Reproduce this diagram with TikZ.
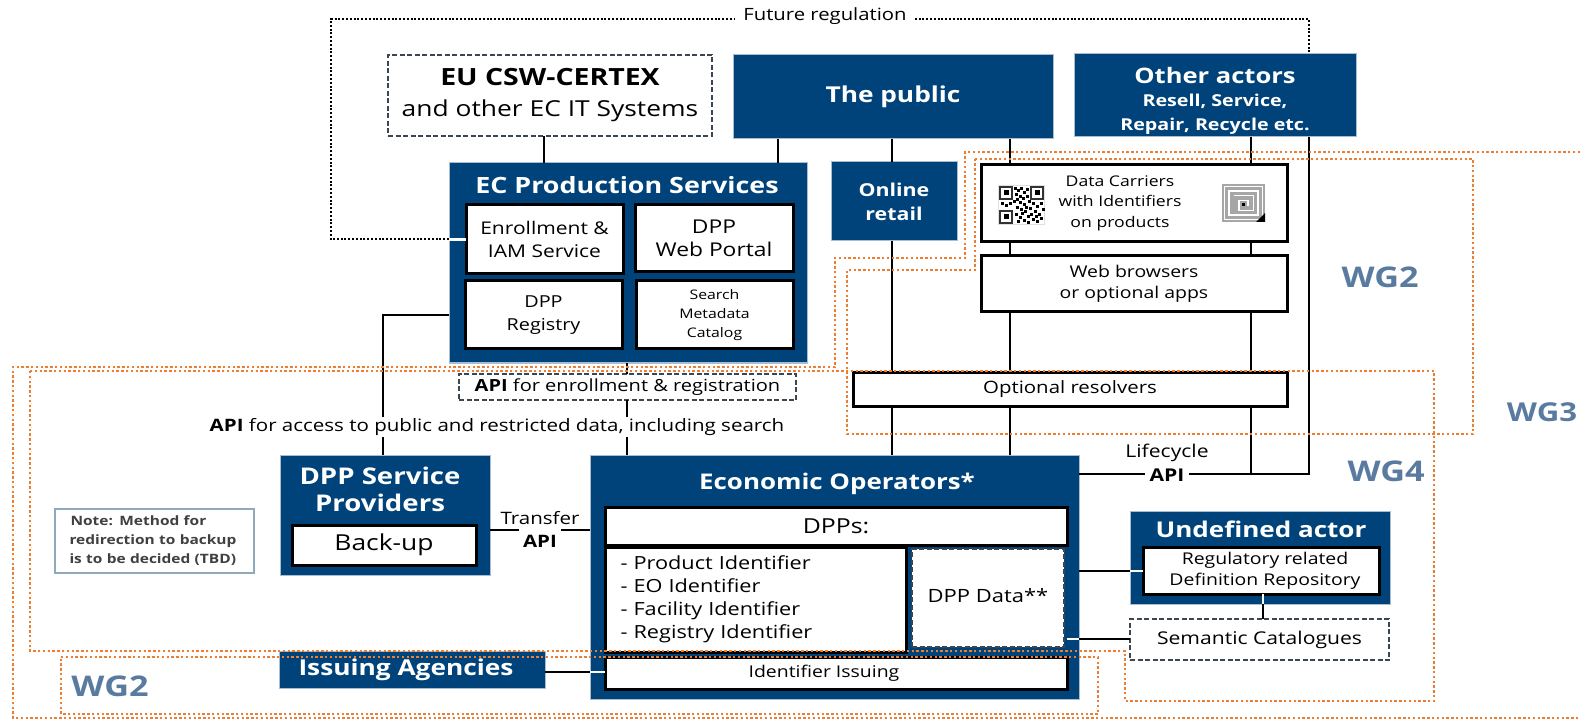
\documentclass[tikz,border=0pt]{standalone}
\usepackage{xcolor}
\usepackage{fontspec}
\setmainfont[FakeStretch=1.2]{Open Sans}
\definecolor{dppblue}{HTML}{00437A}
\definecolor{edgeblue}{HTML}{A9BDCF}
\definecolor{wgorange}{HTML}{ED7D31}
\definecolor{wgblue}{HTML}{5A7BA0}
\definecolor{dashgray}{HTML}{3B4650}
\definecolor{notegray}{HTML}{8FA9BD}
\tikzset{
	size/.style 2 args={minimum width=#1pt,minimum height=#2pt},
	plate/.style={inner sep=0pt,outer sep=0pt,align=center},
	bluebox/.style={plate,fill=dppblue,draw=edgeblue,line width=1pt,text=white},
	whitebox/.style={plate,fill=white,draw=black,line width=3pt,text=black},
	dashbox/.style={plate,fill=white,draw=dashgray,line width=2.2pt,dash pattern=on 5pt off 2.5pt,text=black},
	notebox/.style={plate,fill=white,draw=notegray,line width=2pt,text=black!75},
	title/.style={inner sep=0pt,text=white,align=center,font=\fontsize{22.4}{27}\selectfont\bfseries},
	wire/.style={draw=black,line width=2.2pt},
	whitewire/.style={draw=white,line width=2.2pt},
	futureline/.style={draw=black,line width=2pt,dash pattern=on 2pt off 1.8pt},
	wgline/.style={draw=wgorange,line width=2.4pt,dash pattern=on 2.4pt off 2.4pt},
	wglabel/.style={inner sep=0pt,text=wgblue,font=\fontsize{28.5}{30}\selectfont\bfseries},
	wirelabel/.style={fill=white,inner sep=1pt,align=center},
}
\begin{document}
\begin{tikzpicture}[x=1pt,y=-1pt]
	\clip (0,0) rectangle (1580,719);
	
	% top row
	\node[dashbox,size={324}{81},font=\fontsize{22}{31}\selectfont] (certex) at (550,95.5) {{\fontsize{23.7}{31}\selectfont\textbf{EU CSW-CERTEX}}\\and other EC IT Systems};
	\node[bluebox,size={320}{84},font=\fontsize{21.9}{26}\selectfont\bfseries] (public) at (893,97) {The public};
	\node[bluebox,size={282}{83}] (others) at (1215,95.5) {};
	\node[title,font=\fontsize{21.3}{26}\selectfont\bfseries] (othertitle) at (1215,76) {Other actors};
	\node[inner sep=0pt,text=white,align=center,font=\fontsize{16.4}{24}\selectfont\bfseries] (otherlist) at (1215,114) {Resell, Service,\\Repair, Recycle etc.};
	
	% EC production services
	\node[bluebox,size={358}{200}] (ecprod) at (628,263) {};
	\node[title] (ectitle) at (627,185) {EC Production Services};
	\node[whitebox,size={157}{69},font=\fontsize{17.5}{23}\selectfont] (enroll) at (544.5,239.5) {Enrollment \&\\IAM Service};
	\node[whitebox,size={158}{67},font=\fontsize{19}{23}\selectfont] (portal) at (714,238.5) {DPP\\Web Portal};
	\node[whitebox,size={157}{68},font=\fontsize{16.5}{23}\selectfont] (registry) at (543.5,315) {DPP\\Registry};
	\node[whitebox,size={157}{68},font=\fontsize{13.2}{19}\selectfont] (search) at (714.5,315) {Search\\Metadata\\Catalog};
	
	% middle column
	\node[bluebox,size={126}{79},font=\fontsize{17.8}{24}\selectfont\bfseries] (retail) at (894,201.5) {Online\\retail};
	\node[whitebox,size={306}{77}] (carriers) at (1134,203.5) {};
	\node[inner sep=0pt,align=center,font=\fontsize{14.7}{20.5}\selectfont] (carriertext) at (1120,203) {Data Carriers\\with Identifiers\\on products};
	\node[whitebox,size={306}{56},font=\fontsize{16.2}{21}\selectfont] (browsers) at (1134,284) {Web browsers\\or optional apps};
	\node[whitebox,size={434}{34},font=\fontsize{17}{20}\selectfont] (resolvers) at (1070,389) {Optional resolvers};
	\node[dashbox,size={337}{26},font=\fontsize{16.7}{20}\selectfont] (apienroll) at (627.5,387) {\textbf{API} for enrollment \& registration};
	
	% left side
	\node[bluebox,size={210}{120}] (sprov) at (385,515) {};
	\node[title,font=\fontsize{23}{27}\selectfont\bfseries] (sprovtitle) at (380,489) {DPP Service\\Providers};
	\node[whitebox,size={184}{40},font=\fontsize{22}{24}\selectfont] (backup) at (384,545) {Back-up};
	\node[notebox,size={199}{64},font=\fontsize{12.9}{19}\selectfont\bfseries,align=left,text width=170pt] (note) at (154.5,541) {\hspace*{1pt}Note: Method for\\redirection to backup\\is to be decided (TBD)};
	\node[bluebox,size={266}{37},font=\fontsize{21.9}{24}\selectfont\bfseries] (issuing) at (412,669.5) {Issuing Agencies\hspace*{12pt}};
	
	% economic operators
	\node[bluebox,size={489}{244}] (operators) at (834.5,577) {};
	\node[title,font=\fontsize{21.6}{24}\selectfont\bfseries] (optitle) at (837,484) {Economic Operators*};
	\node[whitebox,size={462}{38},font=\fontsize{20.7}{24}\selectfont] (dpps) at (836,526) {DPPs:};
	\node[whitebox,size={301}{105},font=\fontsize{18.1}{23}\selectfont,align=left,text width=270pt] (idlist) at (755.5,599.5) {- Product Identifier\\- EO Identifier\\- Facility Identifier\\- Registry Identifier};
	\node[dashbox,size={152}{98},font=\fontsize{18.3}{23}\selectfont] (dppdata) at (988,598) {\raisebox{4pt}{DPP Data**}};
	\node[whitebox,size={462}{32},font=\fontsize{16.2}{20}\selectfont] (idissue) at (836,673) {Identifier Issuing\hspace*{24pt}};
	
	% undefined actor
	\node[bluebox,size={260}{93}] (undefined) at (1260,557.5) {};
	\node[title,font=\fontsize{21.7}{24}\selectfont\bfseries] (undeftitle) at (1261,529) {Undefined actor};
	\node[whitebox,size={236}{47},font=\fontsize{16.2}{21}\selectfont] (repo) at (1261,570.5) {\hspace*{8pt}Regulatory related\\\hspace*{8pt}Definition Repository};
	\node[dashbox,size={259}{41},font=\fontsize{17.6}{20}\selectfont] (semantic) at (1259.5,639.5) {Semantic Catalogues};
	
	% data carrier icons
	\begin{scope}[shift={(999,186)}]
		\fill[gray!25] (-1,-1) rectangle (46,39);
		\fill[white] (0,0) rectangle (45,38);
		\foreach \x/\y in {0/0,31/0,0/24} {
			\draw[black!80,line width=1.6pt] (\x+1,\y+1) rectangle (\x+13,\y+13);
			\fill[black] (\x+4.5,\y+4.5) rectangle (\x+9.5,\y+9.5);
		}
		\foreach \x/\y in {15/1,18/3,21/1,24/5,27/2,16/7,20/9,23/11,27/9,2/16,6/18,10/16,14/14,17/12,20/15,24/17,29/14,33/16,37/19,41/16,17/20,21/22,25/24,30/21,35/24,39/27,43/22,16/27,20/30,24/33,28/29,33/32,37/34,41/31,18/34,26/20,22/26,31/27,36/29,28/35} {
			\fill[black] (\x,\y) rectangle (\x+3.4,\y+3.4);
		}
	\end{scope}
	\begin{scope}[shift={(1222,184)}]
		\fill[gray!70] (0,0) rectangle (43,38);
		\foreach \i in {2.5,7} {
			\draw[white,line width=1.4pt] (\i,\i) rectangle (43-\i,38-\i);
		}
		\draw[white,line width=1.4pt] (11.5,11.5) -- (31.5,11.5) -- (31.5,26.5) -- (17,26.5) -- (17,16.5) -- (26,16.5) -- (26,22);
		\fill[black] (20,19) rectangle (23,22);
		\fill[black] (43,38) -- (34,38) -- (43,29) -- cycle;
	\end{scope}
	
	% named x positions of the vertical wires
	\coordinate (lineret) at (892,0);
	\coordinate (linepub) at (1010,0);
	\coordinate (lineact) at (1251,0);
	\coordinate (linelife) at (1309,0);
	\coordinate (lineapi) at (627,0);
	\coordinate (linereg) at (383,0);
	\coordinate (futurecorner) at (331,19);
	
	% vertical wires
	\foreach \a/\b in {public/retail,retail/resolvers,resolvers/operators} {
		\draw[wire] (\a.south -| lineret) -- (\b.north -| lineret);
	}
	\foreach \a/\b in {public/carriers,carriers/browsers,browsers/resolvers,resolvers/operators} {
		\draw[wire] (\a.south -| linepub) -- (\b.north -| linepub);
	}
	\foreach \a/\b in {others/carriers,carriers/browsers,browsers/resolvers} {
		\draw[wire] (\a.south -| lineact) -- (\b.north -| lineact);
	}
	\draw[wire] (certex.south -| 544,0) -- (ecprod.north -| 544,0);
	\draw[wire] (public.south -| 778,0) -- (ecprod.north -| 778,0);
	\draw[wire] (ecprod.south -| lineapi) -- (apienroll.north -| lineapi);
	\draw[wire] (apienroll.south -| lineapi) -- (operators.north -| lineapi);
	\draw[wire] (ecprod.west |- registry.west) -- (linereg |- registry.west) -- (sprov.north -| linereg);
	
	% lifecycle wires
	\draw[wire] (resolvers.south -| lineact) -- (lineact |- 0,474);
	\draw[wire] (others.south -| linelife) -- (linelife |- 0,474) -- (operators.east |- 0,474);
	
	% side wires
	\draw[wire] (sprov.east |- 0,530) -- (operators.west |- 0,530);
	\draw[wire] (issuing.east |- 0,672) -- (operators.west |- 0,672);
	\draw[whitewire] (operators.west |- 0,672) -- (idissue.west |- 0,672);
	\draw[wire] (operators.east |- 0,571) -- (undefined.west |- 0,571);
	\draw[whitewire] (undefined.west |- 0,571) -- (repo.west |- 0,571);
	\draw[wire] (operators.east |- 0,639) -- (semantic.west |- 0,639);
	\draw[whitewire] (dpps.east |- 0,639) -- (operators.east |- 0,639);
	\draw[wire] (undefined.south -| 1263,0) -- (semantic.north -| 1263,0);
	\draw[whitewire] (repo.south -| 1263,0) -- (undefined.south -| 1263,0);
	
	% future regulation
	\node[wirelabel,inner xsep=8pt,font=\fontsize{16.9}{18}\selectfont] (future) at (825,16) {Future regulation};
	\draw[futureline] (ecprod.west |- enroll.west) -- (futurecorner |- enroll.west) -- (futurecorner) -- (future.west |- futurecorner);
	\draw[futureline] (future.east |- futurecorner) -- (linelife |- futurecorner) -- (others.north -| linelife);
	\draw[whitewire] (ecprod.west |- enroll.west) -- (enroll.west);
	
	% wire labels
	\node[wirelabel,font=\fontsize{17.1}{20}\selectfont] (apiaccess) at (497,427) {\textbf{API} for access to public and restricted data, including search};
	\node[inner sep=0pt,font=\fontsize{17.1}{21}\selectfont] (transfer) at (540,518) {Transfer};
	\node[wirelabel,inner xsep=4pt,minimum height=26pt,font=\fontsize{17.1}{21}\selectfont] (transferapi) at (540,541) {\textbf{API}};
	\node[inner sep=0pt,font=\fontsize{17.6}{21}\selectfont] (lifecycle) at (1167,453) {Lifecycle};
	\node[wirelabel,inner xsep=5pt,font=\fontsize{17.6}{21}\selectfont] (lifeapi) at (1167,475) {\textbf{API}};
	
	% working group borders
	\draw[wgline] (1580,152) -- (965,152) -- (965,258) -- (835,258) -- (835,367) -- (13,367) -- (13,718) -- (1580,718);
	\draw[wgline] (975,159) -- (1473,159) -- (1473,434) -- (847,434) -- (847,270) -- (975,270) -- cycle;
	\draw[wgline] (30,371) -- (1434,371) -- (1434,701) -- (1125,701) -- (1125,651) -- (30,651) -- cycle;
	\draw[wgline] (61,657) -- (1098,657) -- (1098,714) -- (61,714) -- cycle;
	
	% working group labels
	\node[wglabel] (wgbottom) at (110,686) {WG2};
	\node[wglabel] (wgtop) at (1380,277) {WG2};
	\node[wglabel,font=\fontsize{26}{30}\selectfont\bfseries] (wgthree) at (1542,412) {WG3};
	\node[wglabel] (wgfour) at (1386,471) {WG4};
\end{tikzpicture}
\end{document}
